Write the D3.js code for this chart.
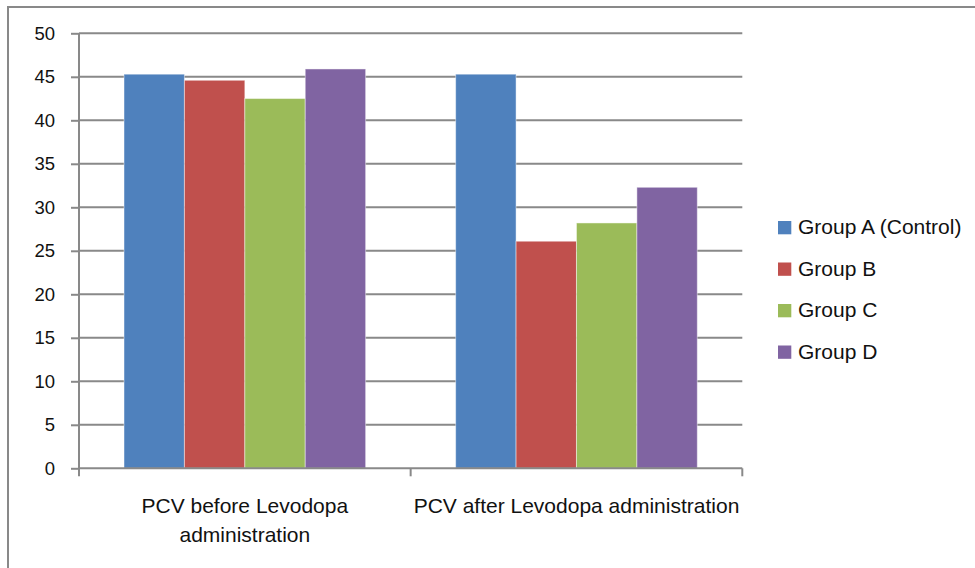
<!DOCTYPE html>
<html>
<head>
<meta charset="utf-8">
<script src="https://cdn.jsdelivr.net/npm/d3@7"></script>
<style>
  html, body { margin: 0; padding: 0; background: #fff; }
  svg { display: block; }
</style>
</head>
<body>
<svg id="chart" width="975" height="568"></svg>
<script>
// PCV values per group, before and after Levodopa administration
const categories = [["PCV before Levodopa", "administration"], ["PCV after Levodopa administration"]];
const categoryKeys = ["before", "after"];
const groups = ["Group A (Control)", "Group B", "Group C", "Group D"];
const groupA = [45.3, 45.3];
const groupB = [44.6, 26.1];
const groupC = [42.5, 28.2];
const groupD = [45.9, 32.3];
const yTicks = [0, 5, 10, 15, 20, 25, 30, 35, 40, 45, 50];
const colors = ["#4F81BD", "#C0504D", "#9BBB59", "#8064A2"];

const seriesValues = [groupA, groupB, groupC, groupD];
const rows = categoryKeys.map((k, i) => ({
  key: k,
  values: groups.map((g, j) => ({ group: g, value: seriesValues[j][i] }))
}));

const svg = d3.select("#chart");
const gridColor = "#898989";
const plotLeft = 79, plotRight = 742.3, plotTop = 33.3, plotBottom = 468.3;

// outer frame
svg.append("rect")
  .attr("x", 8).attr("y", 7)
  .attr("width", 1000).attr("height", 600)
  .attr("fill", "none").attr("stroke", gridColor).attr("stroke-width", 2);

const y = d3.scaleLinear().domain([0, 50]).range([plotBottom, plotTop]);
const x0 = d3.scaleBand().domain(categoryKeys).range([plotLeft, plotRight]).padding(0);
const x1 = d3.scaleBand().domain(groups).range([0, x0.bandwidth()])
  .paddingInner(0).paddingOuter(0.745);
const color = d3.scaleOrdinal().domain(groups).range(colors);

// horizontal gridlines
svg.append("g").selectAll("line").data(yTicks.filter(t => t > 0)).join("line")
  .attr("x1", plotLeft).attr("x2", plotRight)
  .attr("y1", d => y(d)).attr("y2", d => y(d))
  .attr("stroke", gridColor).attr("stroke-width", 2);

// y axis
const yAxis = svg.append("g").attr("transform", `translate(${plotLeft},0)`)
  .call(d3.axisLeft(y).tickValues(yTicks).tickSize(8).tickPadding(16));
yAxis.select(".domain").attr("stroke", gridColor).attr("stroke-width", 2)
  .attr("d", `M0,${plotTop}V${plotBottom}`);
yAxis.selectAll(".tick line").attr("stroke", gridColor).attr("stroke-width", 2);
yAxis.selectAll(".tick text")
  .attr("fill", "#111")
  .style("font-family", "'Liberation Sans', Arial, sans-serif")
  .style("font-size", "18.5px");

// bars
const barGroups = svg.append("g").selectAll("g").data(rows).join("g")
  .attr("transform", d => `translate(${x0(d.key)},0)`);
barGroups.selectAll("rect").data(d => d.values).join("rect")
  .attr("x", d => x1(d.group))
  .attr("width", x1.bandwidth())
  .attr("y", d => y(d.value))
  .attr("height", d => y(0) - y(d.value))
  .attr("fill", d => color(d.group))
  .attr("stroke", "rgba(255,255,255,0.45)")
  .attr("stroke-width", 1);

// x axis line with category boundary ticks
const xAxis = svg.append("g").attr("transform", `translate(0,${plotBottom})`);
xAxis.append("line").attr("x1", plotLeft).attr("x2", plotRight)
  .attr("stroke", gridColor).attr("stroke-width", 2);
const boundaries = [plotLeft].concat(categoryKeys.map(k => x0(k) + x0.bandwidth()));
xAxis.selectAll("line.tick").data(boundaries).join("line")
  .attr("class", "tick")
  .attr("x1", d => d).attr("x2", d => d)
  .attr("y1", 0).attr("y2", 8)
  .attr("stroke", gridColor).attr("stroke-width", 2);

// category labels
const labels = svg.append("g").selectAll("text").data(categoryKeys).join("text")
  .attr("x", d => x0(d) + x0.bandwidth() / 2)
  .attr("y", 512.7)
  .attr("text-anchor", "middle")
  .attr("fill", "#111")
  .style("font-family", "'Liberation Sans', Arial, sans-serif")
  .style("font-size", "21px");
labels.selectAll("tspan").data((d, i) => categories[i]).join("tspan")
  .attr("x", function () { return d3.select(this.parentNode).attr("x"); })
  .attr("dy", (d, i) => i === 0 ? 0 : 29)
  .text(d => d);

// legend
const legend = svg.append("g").selectAll("g").data(groups).join("g")
  .attr("transform", (d, i) => `translate(778,${221 + i * 41.5})`);
legend.append("rect").attr("width", 13.3).attr("height", 13.3)
  .attr("fill", d => color(d));
legend.append("text")
  .attr("x", 20).attr("y", 13.3)
  .attr("fill", "#111")
  .style("font-family", "'Liberation Sans', Arial, sans-serif")
  .style("font-size", "21px")
  .text(d => d);
</script>
</body>
</html>
